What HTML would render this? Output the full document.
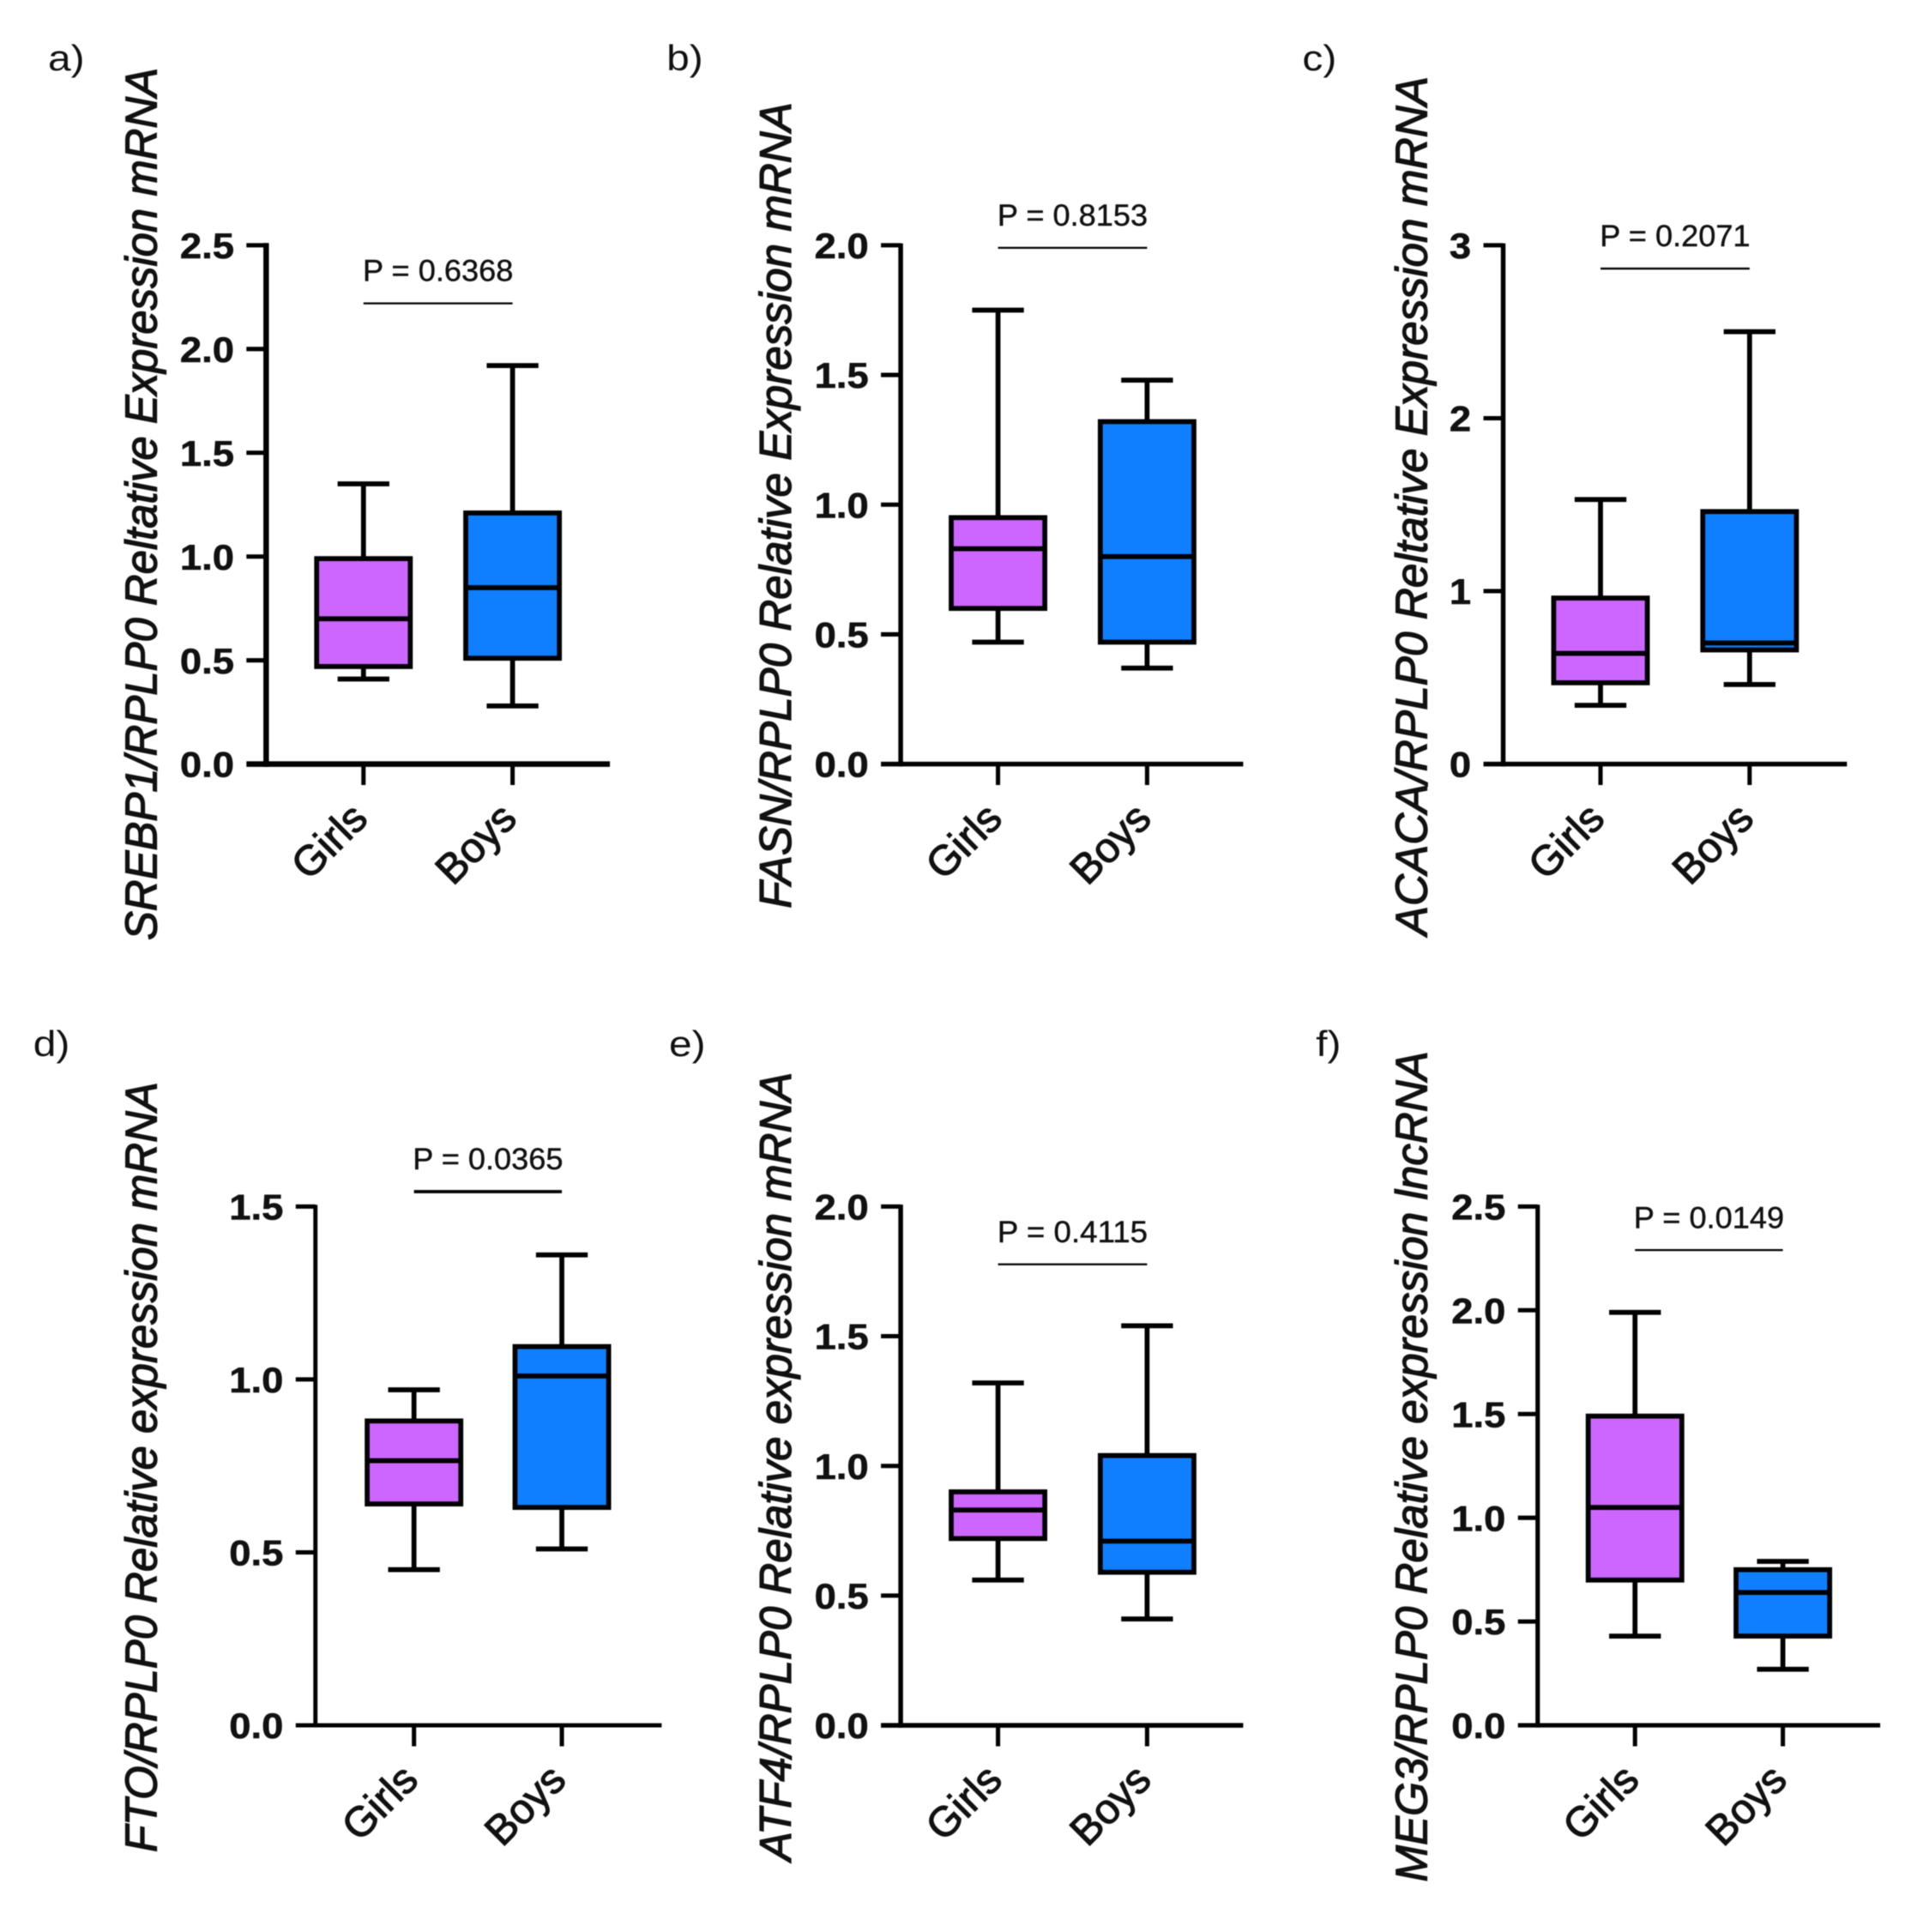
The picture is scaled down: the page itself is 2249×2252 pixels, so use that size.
<!DOCTYPE html>
<html lang="en">
<head>
<meta charset="utf-8">
<title>Relative expression box plots, girls vs boys</title>
<style>
html,body{margin:0;padding:0;background:#fff;width:2249px;height:2252px;overflow:hidden}
svg{display:block;filter:blur(0.5px)}
text{font-family:"Liberation Sans",sans-serif;fill:#111}
</style>
</head>
<body>
<svg id="figure" xmlns="http://www.w3.org/2000/svg" width="2249" height="2252" viewBox="0 0 1565.6 1567.7"></svg>
<script>
const categories = ["Girls", "Boys"];

const ticksA = ["0.0", "0.5", "1.0", "1.5", "2.0", "2.5"];
const ticksB = ["0.0", "0.5", "1.0", "1.5", "2.0"];
const ticksC = ["0", "1", "2", "3"];
const ticksD = ["0.0", "0.5", "1.0", "1.5"];
const ticksE = ["0.0", "0.5", "1.0", "1.5", "2.0"];
const ticksF = ["0.0", "0.5", "1.0", "1.5", "2.0", "2.5"];

// Each series: lower whisker, Q1, median, Q3, upper whisker
const girlsA = [0.41, 0.47, 0.70, 0.99, 1.35];
const boysA = [0.28, 0.51, 0.85, 1.21, 1.92];
const girlsB = [0.47, 0.60, 0.83, 0.95, 1.75];
const boysB = [0.37, 0.47, 0.80, 1.32, 1.48];
const girlsC = [0.34, 0.47, 0.64, 0.96, 1.53];
const boysC = [0.46, 0.66, 0.70, 1.46, 2.50];
const girlsD = [0.45, 0.64, 0.765, 0.88, 0.97];
const boysD = [0.51, 0.63, 1.01, 1.095, 1.36];
const girlsE = [0.56, 0.72, 0.83, 0.90, 1.32];
const boysE = [0.41, 0.59, 0.71, 1.04, 1.54];
const girlsF = [0.43, 0.70, 1.05, 1.49, 1.99];
const boysF = [0.27, 0.43, 0.64, 0.75, 0.79];

const pLabels = ["P = 0.6368", "P = 0.8153", "P = 0.2071", "P = 0.0365", "P = 0.4115", "P = 0.0149"];
const pBarLevels = [2.22, 1.99, 2.865, 1.543, 1.777, 2.29];

const panelLetters = ["a)", "b)", "c)", "d)", "e)", "f)"];

const panels = [
  {id:"a", ticks:ticksA, girls:girlsA, boys:boysA, axisX:216, top:199, base:620, right:495, c0:295, c1:416, axisW:4.5,
   title:"SREBP1/RPLP0 Reltative Expression mRNA", tx:127, ty0:55, ty1:763, lx:39, ly:57},
  {id:"b", ticks:ticksB, girls:girlsB, boys:boysB, axisX:731, top:199, base:620, right:1009, c0:810, c1:931, axisW:3.8,
   title:"FASN/RPLP0 Relative Expression mRNA", tx:642, ty0:83, ty1:737, lx:541, ly:57},
  {id:"c", ticks:ticksC, girls:girlsC, boys:boysC, axisX:1220, top:199, base:620, right:1499, c0:1299, c1:1420, axisW:3.8,
   title:"ACACA/RPLP0 Reltative Expression mRNA", tx:1158, ty0:62, ty1:759, lx:1057, ly:57},
  {id:"d", ticks:ticksD, girls:girlsD, boys:boysD, axisX:256, top:979, base:1400, right:537, c0:336, c1:456, axisW:3.4,
   title:"FTO/RPLP0 Relative expression mRNA", tx:127, ty0:878, ty1:1503, lx:27, ly:857},
  {id:"e", ticks:ticksE, girls:girlsE, boys:boysE, axisX:731, top:979, base:1400, right:1009, c0:810, c1:931, axisW:3.8,
   title:"ATF4/RPLP0 Relative expression mRNA", tx:642, ty0:870, ty1:1510, lx:543, ly:857},
  {id:"f", ticks:ticksF, girls:girlsF, boys:boysF, axisX:1248, top:979, base:1400, right:1526, c0:1327, c1:1447, axisW:3.6,
   title:"MEG3/RPLP0 Relative expression lncRNA", tx:1158, ty0:853, ty1:1527, lx:1068, ly:857}
];

const fills = ["#cc66ff", "#0f7fff"];
const NS = "http://www.w3.org/2000/svg";
const root = document.getElementById("figure");

function mk(parent, tag, attrs) {
  const el = document.createElementNS(NS, tag);
  for (const k in attrs) el.setAttribute(k, attrs[k]);
  parent.appendChild(el);
  return el;
}

function yScale(p) {
  const max = parseFloat(p.ticks[p.ticks.length - 1]);
  return v => p.base - (v / max) * (p.base - p.top);
}

function line(parent, x1, y1, x2, y2, w, name) {
  const el = mk(parent, "line", {x1, y1, x2, y2, stroke: "#000", "stroke-width": w});
  
  
  return el;
}

function drawBox(g, p, y, cx, vals, fill, catName) {
  const group = mk(g, "g", {});
  
  
  const halfBox = 38, halfCap = 21, sw = 4;
  const [lo, q1, med, q3, hi] = vals;
  line(group, cx, y(lo), cx, y(q1), sw, 'lower-whisker');
  line(group, cx, y(q3), cx, y(hi), sw, 'upper-whisker');
  line(group, cx - halfCap, y(lo), cx + halfCap, y(lo), sw, 'lower-cap');
  line(group, cx - halfCap, y(hi), cx + halfCap, y(hi), sw, 'upper-cap');
  const r = mk(group, "rect", {x: cx - halfBox, y: y(q3), width: halfBox * 2, height: y(q1) - y(q3), fill, stroke: "#000", "stroke-width": sw});
  
  
  line(group, cx - halfBox, y(med), cx + halfBox, y(med), sw, 'median-line');
}

panels.forEach((p, i) => {
  const g = mk(root, "g", {});
  
  
  const y = yScale(p);

  const letter = mk(g, "text", {transform: `translate(${p.lx},${p.ly}) scale(1.15,1)`, "font-size": 29, fill: "#222"});
  letter.textContent = panelLetters[i];
  
  

  const tcy = (p.ty0 + p.ty1) / 2;
  const title = mk(g, "text", {
    transform: `translate(${p.tx},${tcy}) rotate(-90)`,
    "text-anchor": "middle", "font-size": 36, "font-style": "italic",
    textLength: p.ty1 - p.ty0, lengthAdjust: "spacingAndGlyphs",
    stroke: "#111", "stroke-width": 0.9
  });
  title.textContent = p.title;
  
  

  line(g, p.axisX, p.top - p.axisW * 0.4, p.axisX, p.base + p.axisW / 2, p.axisW, 'y-axis-line');
  line(g, p.axisX - 16, p.base, p.right, p.base, p.axisW, 'x-axis-line');

  p.ticks.forEach(t => {
    const v = parseFloat(t);
    const ty = y(v);
    if (v > 0) line(g, p.axisX - 16, ty, p.axisX, ty, 3.5, 'y-tick');
    const lab = mk(g, "text", {
      transform: `translate(${p.axisX - 26},${ty + 10.5}) scale(1.09,1)`,
      "text-anchor": "end", "font-size": 29, "font-weight": "bold", stroke: "#111", "stroke-width": 0.4
    });
    lab.textContent = t;
    
    
  });

  [p.c0, p.c1].forEach((cx, ci) => {
    line(g, cx, p.base, cx, p.base + 17, 3.5, 'x-tick');
    const lab = mk(g, "text", {
      transform: `translate(${cx + 5},${p.base + 46}) rotate(-45)`,
      "text-anchor": "end", "font-size": 34, stroke: "#111", "stroke-width": 0.8
    });
    lab.textContent = categories[ci];
    
    
  });

  drawBox(g, p, y, p.c0, p.girls, fills[0], categories[0]);
  drawBox(g, p, y, p.c1, p.boys, fills[1], categories[1]);

  const by = y(pBarLevels[i]);
  line(g, p.c0, by, p.c1, by, i === 3 ? 2.6 : 1.6, 'significance-bar');
  const pt = mk(g, "text", {
    x: (p.c0 + p.c1) / 2, y: by - 18, "text-anchor": "middle", "font-size": 24.5,
    textLength: 122, lengthAdjust: "spacingAndGlyphs", stroke: "#111", "stroke-width": 0.3
  });
  pt.textContent = pLabels[i];
  
  
});
</script>
</body>
</html>
